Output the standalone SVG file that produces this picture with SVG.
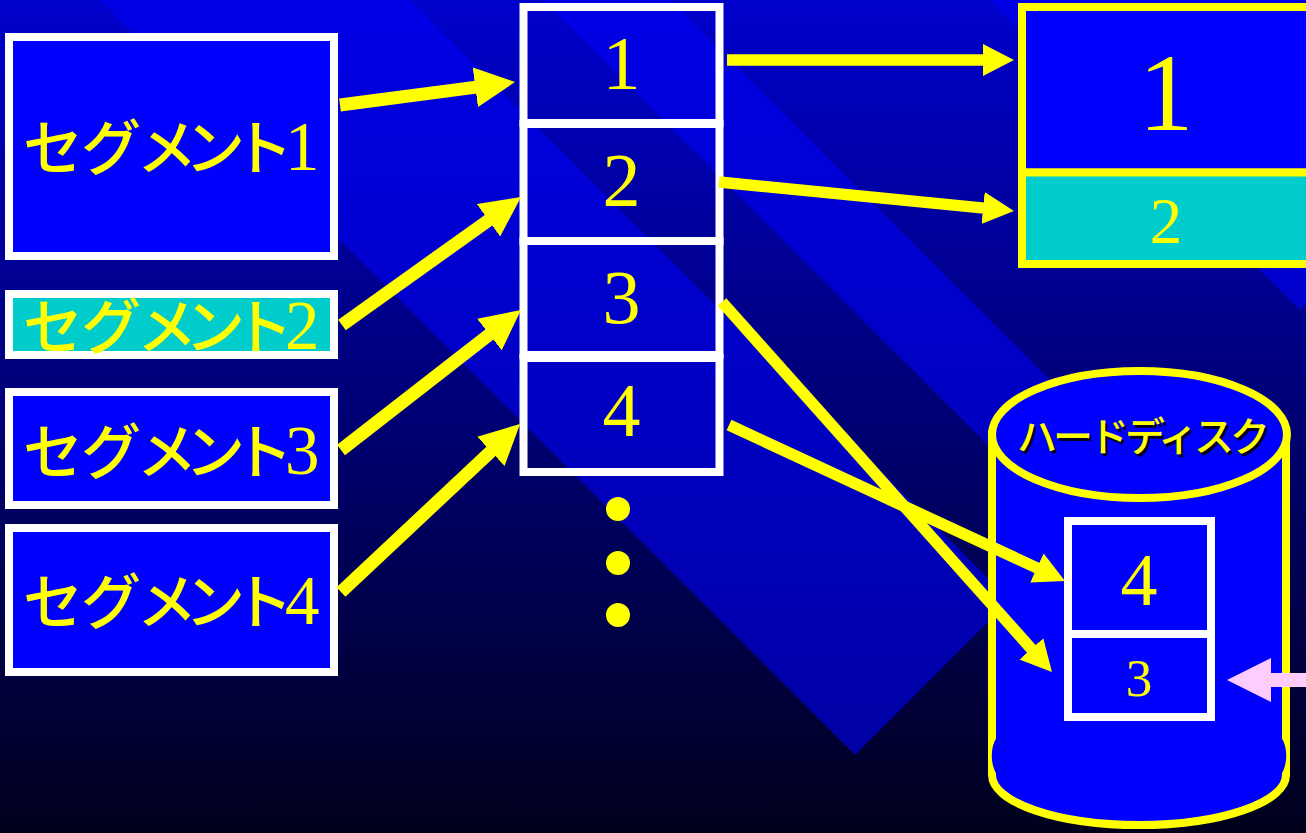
<svg xmlns="http://www.w3.org/2000/svg" width="1306" height="833" viewBox="0 0 1306 833">
  <defs>
    <linearGradient id="bg" x1="0" y1="0" x2="0" y2="1">
      <stop offset="0" stop-color="#0000cc"/>
      <stop offset="1" stop-color="#00001c"/>
    </linearGradient>
    <linearGradient id="band" gradientUnits="userSpaceOnUse" x1="0" y1="0" x2="0" y2="833">
      <stop offset="0" stop-color="#0000e6"/>
      <stop offset="1" stop-color="#00009e"/>
    </linearGradient>
    <marker id="headL" markerUnits="userSpaceOnUse" viewBox="0 0 40 40" markerWidth="40" markerHeight="40" refX="1" refY="20" orient="auto">
      <path d="M0,0 L40,20 L0,40 Z" fill="#ffff00"/>
    </marker>
    <marker id="headS" markerUnits="userSpaceOnUse" viewBox="0 0 31 32" markerWidth="31" markerHeight="32" refX="1" refY="16" orient="auto">
      <path d="M0,0 L31,16 L0,32 Z" fill="#ffff00"/>
    </marker>
    <style>
      .kana { font-family: "Noto Sans CJK JP", "Noto Sans CJK SC", sans-serif; font-size: 60px; font-weight: 500; fill: #ffff00; }
      .k1 { letter-spacing: -2px; }
      .k2 { letter-spacing: -12px; }
      .num { font-family: "Liberation Serif", serif; font-size: 69px; font-weight: 400; letter-spacing: 0; fill: #ffff00; }
      .colnum { font-family: "Liberation Serif", serif; font-size: 76px; fill: #ffff00; text-anchor: middle; }
      .segbox { stroke: #ffffff; stroke-width: 8; }
      .colbox { fill: none; stroke: #ffffff; stroke-width: 8; }
      .membox { stroke: #ffff00; stroke-width: 8; }
      .diskbox { fill: #0000ff; stroke: #ffffff; stroke-width: 8; }
      .disklabel { font-family: "Noto Sans CJK JP", "Noto Sans CJK SC", sans-serif; font-size: 40px; font-weight: 500; letter-spacing: -4px; text-anchor: middle; }
      .arrL { stroke: #ffff00; stroke-width: 13; fill: none; marker-end: url(#headL); }
      .arrS { stroke: #ffff00; stroke-width: 11.5; fill: none; marker-end: url(#headS); }
      .dot { fill: #ffff00; }
    </style>
  </defs>

  <!-- background -->
  <rect x="0" y="0" width="1306" height="833" fill="url(#bg)"/>
  <polygon points="50,-50 360,-50 1010,600 855,755" fill="url(#band)"/>
  <polygon points="493,-50 620,-50 1140,470 1076.5,533.5" fill="url(#band)"/>
  <polygon points="940,-50 1450,-50 1555,55 1300,310" fill="url(#band)"/>

  <!-- left segments -->
  <g id="seg1">
    <rect class="segbox" x="9" y="37" width="325" height="219" fill="#0000ff"/>
    <text class="kana" y="170"><tspan class="k1" x="23">セグ</tspan><tspan class="k2" x="137">メント</tspan><tspan class="num" x="285">1</tspan></text>
  </g>
  <g id="seg2">
    <rect class="segbox" x="9" y="294" width="325" height="61" fill="#00cccc"/>
    <text class="kana" y="349"><tspan class="k1" x="23">セグ</tspan><tspan class="k2" x="137">メント</tspan><tspan class="num" x="285">2</tspan></text>
  </g>
  <g id="seg3">
    <rect class="segbox" x="9" y="392" width="325" height="113" fill="#0000ff"/>
    <text class="kana" y="474"><tspan class="k1" x="23">セグ</tspan><tspan class="k2" x="137">メント</tspan><tspan class="num" x="285">3</tspan></text>
  </g>
  <g id="seg4">
    <rect class="segbox" x="9" y="528" width="325" height="144" fill="#0000ff"/>
    <text class="kana" y="624"><tspan class="k1" x="23">セグ</tspan><tspan class="k2" x="137">メント</tspan><tspan class="num" x="285">4</tspan></text>
  </g>

  <!-- page table column -->
  <g id="page1">
    <rect class="colbox" x="523.5" y="7" width="196" height="116"/>
    <text class="colnum" x="621.5" y="89">1</text>
  </g>
  <g id="page2">
    <rect class="colbox" x="523.5" y="124" width="196" height="117"/>
    <text class="colnum" x="621.5" y="206">2</text>
  </g>
  <g id="page3">
    <rect class="colbox" x="523.5" y="241" width="196" height="114"/>
    <text class="colnum" x="621.5" y="323">3</text>
  </g>
  <g id="page4">
    <rect class="colbox" x="523.5" y="358" width="196" height="114"/>
    <text class="colnum" x="621.5" y="436">4</text>
  </g>
  <g id="ellipsis">
    <circle class="dot" cx="618" cy="509" r="12"/>
    <circle class="dot" cx="618" cy="563" r="12"/>
    <circle class="dot" cx="618" cy="615" r="12"/>
  </g>

  <!-- main memory -->
  <g id="mem1">
    <rect class="membox" x="1022" y="7" width="300" height="165.5" fill="#0000ff"/>
    <text x="1166" y="130" style="font-family:'Liberation Serif',serif;font-size:110px;fill:#ffff00;text-anchor:middle">1</text>
  </g>
  <g id="mem2">
    <rect class="membox" x="1022" y="172.5" width="300" height="91.5" fill="#00cccc"/>
    <text x="1166" y="243" style="font-family:'Liberation Serif',serif;font-size:65px;fill:#ffff00;text-anchor:middle">2</text>
  </g>

  <!-- hard disk -->
  <g id="disk">
    <path d="M992,434 V775 A147,50 0 0 0 1286,775 V434 Z" fill="#0000ff" stroke="#ffff00" stroke-width="8"/>
    <path d="M997,737 C990,747 990,764 997,775 Z" fill="#0000ff"/>
    <path d="M1281,737 C1288,747 1288,764 1281,775 Z" fill="#0000ff"/>
    <ellipse cx="1139.5" cy="434.5" rx="147.5" ry="63.5" fill="#0000ff" stroke="#ffff00" stroke-width="8"/>
    <text class="disklabel" x="1144" y="453.5" fill="#000000" fill-opacity="0.85">ハードディスク</text>
    <text class="disklabel" x="1141.5" y="451" fill="#ffff00">ハードディスク</text>
  </g>
  <g id="disk4">
    <rect class="diskbox" x="1068" y="521" width="143" height="113"/>
    <text x="1139" y="605" style="font-family:'Liberation Serif',serif;font-size:74px;fill:#ffff00;text-anchor:middle">4</text>
  </g>
  <g id="disk3">
    <rect class="diskbox" x="1068" y="634" width="143" height="83"/>
    <text x="1139" y="696" style="font-family:'Liberation Serif',serif;font-size:53px;fill:#ffff00;text-anchor:middle">3</text>
  </g>

  <!-- connectors -->
  <g id="connectors">
    <line class="arrL" x1="340" y1="105" x2="476.3" y2="87.1"/>
    <line class="arrL" x1="342" y1="325" x2="489.3" y2="219.7"/>
    <line class="arrL" x1="341" y1="450" x2="490.2" y2="333.9"/>
    <line class="arrL" x1="341" y1="592" x2="491.6" y2="450.7"/>
    <line class="arrS" x1="727" y1="60" x2="984" y2="60"/>
    <line class="arrS" x1="719" y1="182" x2="984.1" y2="208.1"/>
    <line class="arrS" x1="722" y1="302" x2="1032" y2="649.6"/>
    <line class="arrS" x1="729" y1="425" x2="1037.8" y2="568.4"/>
    <polygon points="1227,680 1271,658 1271,673 1320,673 1320,687 1271,687 1271,702" fill="#ffccff"/>
  </g>
</svg>
